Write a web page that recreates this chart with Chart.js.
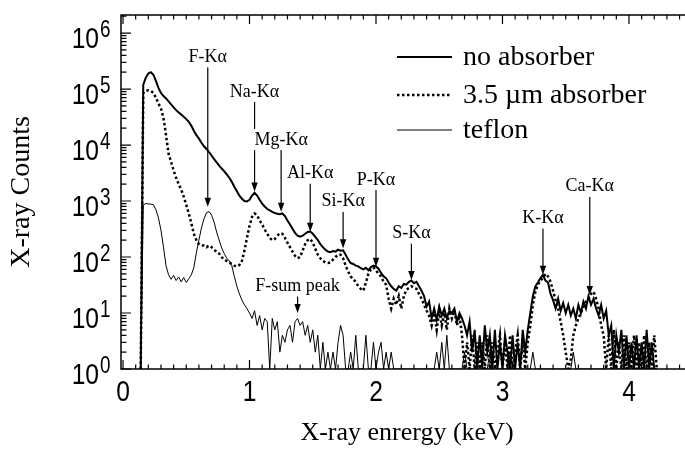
<!DOCTYPE html>
<html>
<head>
<meta charset="utf-8">
<script src="https://cdn.jsdelivr.net/npm/chart.js"></script>
<style>
  html, body { margin: 0; padding: 0; background: #fff; }
  #wrap { width: 685px; height: 450px; position: relative; }
</style>
</head>
<body>
<div id="wrap"><canvas id="spectrum" width="685" height="450"></canvas></div>
<script>
// ── Datos del espectro (keV, cuentas) ─────────────────────────────────────
const energy = [
  0.14, 0.16, 0.18, 0.20, 0.22, 0.24, 0.26, 0.28, 0.30, 0.32,
  0.34, 0.36, 0.38, 0.40, 0.42, 0.44, 0.46, 0.48, 0.50, 0.52,
  0.54, 0.56, 0.58, 0.60, 0.62, 0.64, 0.66, 0.68, 0.70, 0.72,
  0.74, 0.76, 0.78, 0.80, 0.82, 0.84, 0.86, 0.88, 0.90, 0.92,
  0.94, 0.96, 0.98, 1.00, 1.02, 1.04, 1.06, 1.08, 1.10, 1.12,
  1.14, 1.16, 1.18, 1.20, 1.22, 1.24, 1.26, 1.28, 1.30, 1.32,
  1.34, 1.36, 1.38, 1.40, 1.42, 1.44, 1.46, 1.48, 1.50, 1.52,
  1.54, 1.56, 1.58, 1.60, 1.62, 1.64, 1.66, 1.68, 1.70, 1.72,
  1.74, 1.76, 1.78, 1.80, 1.82, 1.84, 1.86, 1.88, 1.90, 1.92,
  1.94, 1.96, 1.98, 2.00, 2.02, 2.04, 2.06, 2.08, 2.10, 2.12,
  2.14, 2.16, 2.18, 2.20, 2.22, 2.24, 2.26, 2.28, 2.30, 2.32,
  2.34, 2.36, 2.38, 2.40, 2.42, 2.44, 2.46, 2.48, 2.50, 2.52,
  2.54, 2.56, 2.58, 2.60, 2.62, 2.64, 2.66, 2.68, 2.70, 2.72,
  2.74, 2.76, 2.78, 2.80, 2.82, 2.84, 2.86, 2.88, 2.90, 2.92,
  2.94, 2.96, 2.98, 3.00, 3.02, 3.04, 3.06, 3.08, 3.10, 3.12,
  3.14, 3.16, 3.18, 3.20, 3.22, 3.24, 3.26, 3.28, 3.30, 3.32,
  3.34, 3.36, 3.38, 3.40, 3.42, 3.44, 3.46, 3.48, 3.50, 3.52,
  3.54, 3.56, 3.58, 3.60, 3.62, 3.64, 3.66, 3.68, 3.70, 3.72,
  3.74, 3.76, 3.78, 3.80, 3.82, 3.84, 3.86, 3.88, 3.90, 3.92,
  3.94, 3.96, 3.98, 4.00, 4.02, 4.04, 4.06, 4.08, 4.10, 4.12,
  4.14, 4.16, 4.18, 4.20, 4.22
];

const noAbsorber = [
  1, 120000, 160000, 190000, 200000, 180000, 140000, 105000, 85000, 75000,
  68000, 60000, 53000, 47000, 42000, 38000, 35000, 32000, 29000, 26000,
  22000, 18000, 15000, 13000, 11000, 9500, 8500, 7500, 6500, 5600,
  4900, 4300, 3800, 3400, 3000, 2600, 2200, 1800, 1500, 1250,
  1100, 1000, 980, 1050, 1250, 1400, 1250, 1050, 900, 800,
  720, 680, 640, 610, 590, 580, 600, 540, 450, 380,
  320, 270, 240, 230, 240, 260, 280, 285, 260, 230,
  200, 170, 150, 135, 125, 122, 128, 125, 135, 130,
  132, 110, 90, 78, 75, 70, 68, 63, 60, 64,
  58, 66, 70, 68, 62, 52, 45, 42, 35, 30,
  27, 25, 30, 28, 33, 32, 36, 38, 34, 36,
  30, 25, 20, 13, 16, 8, 12, 7.5, 13, 9,
  12, 8, 11, 10, 12, 7, 10, 8, 6, 4,
  7, 2, 5, 1, 4, 1, 6, 2, 4, 1,
  5, 1, 3, 1, 4, 2, 1, 4, 1, 3,
  1, 5, 2, 5, 10, 20, 30, 35, 42, 48,
  38, 35, 22, 17, 12, 18, 11, 15, 10, 14,
  9, 12, 8, 14, 10, 16, 12, 20, 14, 18,
  12, 9, 14, 8, 11, 4, 6, 1, 4, 2,
  5, 1, 4, 1, 3, 1, 4, 1, 3, 1,
  5, 1, 3, 1, 1
];

const absorber35 = [
  1, 85000, 93000, 95000, 93000, 85000, 70000, 55000, 45000, 30000,
  15000, 7000, 5000, 3500, 2600, 2000, 1600, 1200, 850, 600,
  400, 260, 200, 170, 160, 160, 150, 160, 150, 135,
  125, 115, 100, 90, 85, 80, 75, 70, 68, 72,
  85, 130, 220, 360, 520, 600, 560, 450, 380, 310,
  260, 220, 200, 210, 240, 265, 260, 220, 180, 150,
  125, 105, 95, 100, 130, 170, 200, 210, 180, 140,
  110, 95, 85, 80, 78, 80, 90, 100, 110, 110,
  95, 70, 55, 45, 40, 36, 30, 27, 25, 35,
  50, 60, 65, 58, 50, 45, 36, 32, 18, 12,
  18, 14, 20, 12, 20, 26, 28, 30, 28, 27,
  22, 18, 14, 11, 9, 6, 10, 5, 11, 6,
  10, 5, 12, 8, 11, 6, 9, 4, 1, 3,
  1, 4, 1, 3, 1, 3, 1, 4, 1, 3,
  1, 2, 4, 1, 3, 1, 4, 1, 2, 4,
  1, 3, 1, 3, 6, 14, 24, 32, 38, 42,
  50, 45, 36, 25, 17, 12, 7, 4, 2, 1,
  1.5, 4, 6, 8, 10, 13, 16, 18, 22, 24,
  18, 12, 6, 4, 1, 4, 1, 5, 1, 3,
  1, 4, 1, 3, 1, 4, 1, 3, 1, 4,
  1, 3, 1, 4, 1
];

const teflon = [
  1, 850, 900, 890, 880, 860, 700, 500, 300, 150,
  70, 48, 40, 47, 38, 44, 36, 43, 35, 41,
  48, 65, 120, 200, 330, 480, 620, 650, 560, 420,
  280, 200, 145, 115, 95, 85, 70, 45, 30, 22,
  17, 14, 12, 10, 8, 11, 6, 9, 5, 8,
  7, 1, 8, 5, 7, 2, 4, 3, 5, 6,
  3, 7, 8, 6, 7, 4, 6, 3, 5, 2,
  4, 1, 3, 1, 2, 1, 2, 1, 3, 6,
  4, 1, 1, 2, 1, 4, 1, 1, 1, 4,
  1, 1, 3, 1, 2, 3, 1, 2, 1, 2,
  1, 1, 1, 1, 1, 1, 1, 1, 1, 1,
  1, 1, 1, 1, 1, 1, 1, 2, 1, 3,
  1, 4, 1, 1, 1, 1, 1, 1, 2, 1,
  1, 1, 1, 1, 1, 1, 1, 1, 2, 1,
  1, 1, 1, 1, 1, 1, 2, 1, 1, 1,
  1, 1, 1, 1, 1, 2, 1, 1, 1, 1,
  1, 1, 1, 1, 1, 1, 1, 1, 1, 1,
  1, 2, 1, 1, 1, 1, 1, 1, 1, 1,
  1, 1, 1, 1, 1, 1, 1, 1, 1, 1,
  1, 1, 1, 1, 1, 1, 1, 1, 1, 1,
  1, 1, 1, 1, 1
];

const seriesNames = ['no absorber', '3.5 \u00b5m absorber', 'teflon'];

// Ejes
const xTickValues = [0, 1, 2, 3, 4];
const xTickLabels = ['0', '1', '2', '3', '4'];
const yTickExponents = ['0', '1', '2', '3', '4', '5', '6'];
const xTitle = 'X-ray enrergy (keV)';
const yTitle = 'X-ray Counts';

// Líneas de emisión: nombre, energía, punta de la flecha y altura del rótulo (cuentas)
const lineNames   = ['F-K\u03b1', 'Na-K\u03b1', 'Mg-K\u03b1', 'Al-K\u03b1', 'Si-K\u03b1', 'P-K\u03b1', 'S-K\u03b1', 'K-K\u03b1', 'Ca-K\u03b1', 'F-sum peak'];
const lineEnergy  = [0.67, 1.04, 1.25, 1.48, 1.74, 2.00, 2.28, 3.32, 3.69, 1.38];
const lineTip     = [790, 1480, 645, 282, 143, 67, 39, 48, 21, 10];
const lineLabelAt = [370000, 89000, 12300, 3100, 970, 2370, 264, 490, 1800, 30];

const toPoints = (vals) => energy.map((e, i) => ({ x: e, y: vals[i] }));

// ── Dibujo de marco, ticks, rótulos y leyenda ─────────────────────────────
const narrowText = (ctx, text, x, y, size, align) => {
  ctx.save();
  ctx.translate(x, y);
  ctx.scale(0.82, 1);
  ctx.font = `${size}px "Liberation Sans", Arial, sans-serif`;
  ctx.textAlign = align;
  ctx.textBaseline = 'alphabetic';
  ctx.fillText(text, 0, 0);
  ctx.restore();
};

const framePlugin = {
  id: 'frame',
  afterDraw(chart) {
    const { ctx, chartArea: ca, scales } = chart;
    const xs = scales.x, ys = scales.y;
    ctx.save();
    ctx.strokeStyle = '#000';
    ctx.fillStyle = '#000';

    // marco
    ctx.lineWidth = 1.5;
    ctx.beginPath();
    ctx.moveTo(ca.right + 2, ca.top);
    ctx.lineTo(ca.left, ca.top);
    ctx.lineTo(ca.left, ca.bottom);
    ctx.lineTo(ca.right + 2, ca.bottom);
    ctx.stroke();

    // ticks del eje x (abajo y arriba, hacia dentro)
    ctx.lineWidth = 1.2;
    ctx.beginPath();
    for (let t = 0; t <= 50; t++) {
      const v = t / 10;
      if (v > xs.max) break;
      const px = xs.getPixelForValue(v);
      const len = t % 10 === 0 ? 9 : 4.5;
      ctx.moveTo(px, ca.bottom); ctx.lineTo(px, ca.bottom - len);
      ctx.moveTo(px, ca.top); ctx.lineTo(px, ca.top + len);
    }
    // ticks del eje y (logarítmico)
    for (let k = 0; k <= 6; k++) {
      for (let m = 1; m <= 9; m++) {
        const v = m * Math.pow(10, k);
        if (v > ys.max) break;
        const py = ys.getPixelForValue(v);
        const len = m === 1 ? 10 : 5.5;
        ctx.moveTo(ca.left, py); ctx.lineTo(ca.left + len, py);
      }
    }
    ctx.stroke();

    // rótulos de ticks
    xTickValues.forEach((v, i) => {
      narrowText(ctx, xTickLabels[i], xs.getPixelForValue(v), 401, 30, 'center');
    });
    yTickExponents.forEach((ex) => {
      const py = ys.getPixelForValue(Math.pow(10, +ex));
      narrowText(ctx, '10', 99, py + 15, 30, 'right');
      narrowText(ctx, ex, 100, py + 4, 23, 'left');
    });

    // títulos de ejes
    ctx.font = '26px "Liberation Serif", "Times New Roman", serif';
    ctx.textAlign = 'center';
    ctx.textBaseline = 'middle';
    ctx.fillText(xTitle, (ca.left + ca.right) / 2 + 4, 433);
    ctx.save();
    ctx.translate(22, (ca.top + ca.bottom) / 2);
    ctx.rotate(-Math.PI / 2);
    ctx.font = '28px "Liberation Serif", "Times New Roman", serif';
    ctx.fillText(yTitle, 0, 0);
    ctx.restore();

    // flechas de líneas de emisión
    ctx.font = '18px "Liberation Serif", "Times New Roman", serif';
    ctx.lineWidth = 1.2;
    lineNames.forEach((name, i) => {
      const px = xs.getPixelForValue(lineEnergy[i]);
      const tip = ys.getPixelForValue(lineTip[i]);
      const lab = ys.getPixelForValue(lineLabelAt[i]);
      ctx.beginPath();
      ctx.moveTo(px, lab + 10);
      ctx.lineTo(px, tip - 6);
      ctx.stroke();
      ctx.beginPath();
      ctx.moveTo(px, tip);
      ctx.lineTo(px - 3.2, tip - 9);
      ctx.lineTo(px + 3.2, tip - 9);
      ctx.closePath();
      ctx.fill();
    });
    // rótulos (con fondo blanco: cortan la flecha de Na-Kα)
    ctx.textAlign = 'center';
    ctx.textBaseline = 'middle';
    lineNames.forEach((name, i) => {
      const px = xs.getPixelForValue(lineEnergy[i]);
      const lab = ys.getPixelForValue(lineLabelAt[i]);
      const w = ctx.measureText(name).width;
      ctx.fillStyle = '#fff';
      ctx.fillRect(px - w / 2 - 1, lab - 11, w + 2, 21);
      ctx.fillStyle = '#000';
      ctx.fillText(name, px, lab);
    });

    // leyenda
    const legY = [57, 95, 130];
    const legBase = [65, 103, 138];
    const styles = chart.data.datasets;
    ctx.font = '28px "Liberation Serif", "Times New Roman", serif';
    ctx.textAlign = 'left';
    ctx.textBaseline = 'alphabetic';
    seriesNames.forEach((name, i) => {
      const ds = styles[i];
      ctx.save();
      ctx.lineWidth = ds.borderWidth;
      ctx.setLineDash(ds.borderDash || []);
      ctx.beginPath();
      ctx.moveTo(397, legY[i]);
      ctx.lineTo(452, legY[i]);
      ctx.stroke();
      ctx.restore();
      ctx.fillText(name, 463, legBase[i]);
    });

    ctx.restore();
  }
};

new Chart(document.getElementById('spectrum'), {
  type: 'line',
  data: {
    datasets: [
      { label: seriesNames[0], data: toPoints(noAbsorber), borderColor: '#000', borderWidth: 2, pointRadius: 0, tension: 0 },
      { label: seriesNames[1], data: toPoints(absorber35), borderColor: '#000', borderWidth: 2.5, borderDash: [2.5, 2.5], pointRadius: 0, tension: 0 },
      { label: seriesNames[2], data: toPoints(teflon), borderColor: '#000', borderWidth: 1, pointRadius: 0, tension: 0 }
    ]
  },
  options: {
    responsive: false,
    animation: false,
    layout: { padding: { left: 121, top: 15, right: 0, bottom: 81 } },
    plugins: { legend: { display: false }, tooltip: { enabled: false } },
    scales: {
      x: { type: 'linear', min: -0.016, max: 4.443, display: false },
      y: { type: 'logarithmic', min: 1, max: 2100000, display: false }
    }
  },
  plugins: [framePlugin]
});
</script>
</body>
</html>
